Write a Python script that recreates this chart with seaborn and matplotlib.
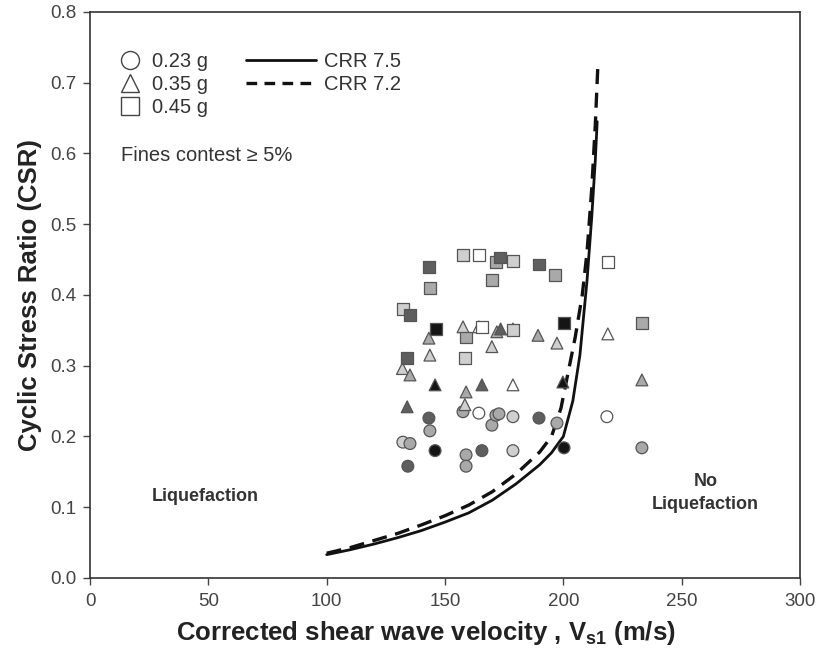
import numpy as np
import pandas as pd
import matplotlib
matplotlib.use("Agg")
import matplotlib.pyplot as plt
from matplotlib.lines import Line2D
import seaborn as sns

# ---- data ----
circle_vs = [132.2, 135.2, 134.3, 143.2, 143.6, 145.8, 157.6, 158.9, 158.9, 164.3, 165.6,
             169.8, 171.5, 172.8, 178.7, 178.7, 189.7, 197.3, 200.3, 218.4, 233.2]
circle_csr = [0.192, 0.190, 0.158, 0.226, 0.208, 0.180, 0.235, 0.174, 0.158, 0.233, 0.180,
              0.216, 0.230, 0.232, 0.228, 0.180, 0.226, 0.219, 0.184, 0.228, 0.184]
circle_fill = ["light", "hatched", "dark", "dark", "hatched", "black", "hatched", "hatched",
               "hatched", "white", "dark", "hatched", "hatched", "hatched", "light", "light",
               "dark", "hatched", "black", "white", "hatched"]

tri_vs = [132.0, 135.2, 134.0, 143.6, 143.2, 145.8, 157.6, 158.9, 158.4, 164.3, 165.6,
          169.8, 171.9, 173.5, 178.7, 178.7, 189.3, 197.3, 199.8, 218.8, 233.2]
tri_csr = [0.296, 0.287, 0.242, 0.315, 0.339, 0.273, 0.355, 0.263, 0.245, 0.355, 0.273,
           0.327, 0.348, 0.352, 0.273, 0.352, 0.343, 0.332, 0.277, 0.345, 0.280]
tri_fill = ["light", "hatched", "dark", "light", "hatched", "black", "light", "hatched",
            "light", "white", "dark", "light", "hatched", "dark", "white", "light",
            "hatched", "light", "black", "white", "hatched"]

sq_vs = [132.2, 135.2, 134.0, 143.2, 143.6, 146.2, 157.6, 158.9, 158.4, 164.3, 165.5,
         169.8, 171.5, 173.2, 178.7, 178.7, 189.7, 196.5, 200.3, 218.8, 233.2]
sq_csr = [0.380, 0.372, 0.311, 0.440, 0.410, 0.352, 0.457, 0.340, 0.311, 0.457, 0.355,
          0.421, 0.447, 0.453, 0.448, 0.350, 0.443, 0.428, 0.360, 0.447, 0.360]
sq_fill = ["light", "dark", "dark", "dark", "hatched", "black", "light", "hatched", "light",
           "white", "white", "hatched", "hatched", "dark", "light", "light", "dark",
           "hatched", "black", "white", "hatched"]

crr75_vs = [100, 110, 120, 130, 140, 150, 160, 170, 180, 190, 195, 200, 204, 207, 210,
            212, 213.5, 214.3]
crr75_csr = [0.033, 0.040, 0.048, 0.057, 0.067, 0.079, 0.092, 0.110, 0.133, 0.160, 0.177,
             0.200, 0.250, 0.315, 0.420, 0.510, 0.590, 0.645]
crr72_vs = [100, 110, 120, 130, 140, 150, 160, 170, 180, 190, 195, 199, 202, 205, 208,
            210, 212, 213.5, 214.6]
crr72_csr = [0.035, 0.043, 0.053, 0.063, 0.075, 0.088, 0.103, 0.122, 0.147, 0.178, 0.200,
             0.240, 0.290, 0.340, 0.400, 0.460, 0.550, 0.640, 0.725]

x_ticks = [0, 50, 100, 150, 200, 250, 300]
y_ticks = [0.0, 0.1, 0.2, 0.3, 0.4, 0.5, 0.6, 0.7, 0.8]

# ---- styling ----
sns.set_theme(style="white")
plt.rcParams["font.family"] = ["Liberation Sans", "DejaVu Sans"]
plt.rcParams["mathtext.fontset"] = "custom"
plt.rcParams["mathtext.rm"] = "Liberation Sans"
plt.rcParams["mathtext.bf"] = "Liberation Sans:bold"
plt.rcParams["mathtext.it"] = "Liberation Sans:italic"

fill_colors = {"white": "#ffffff", "light": "#cfcfcf", "hatched": "#a9a9a9",
               "dark": "#5e5e5e", "black": "#151515"}

df = pd.DataFrame({
    "vs": circle_vs + tri_vs + sq_vs,
    "csr": circle_csr + tri_csr + sq_csr,
    "shape": ["circle"] * len(circle_vs) + ["triangle"] * len(tri_vs) + ["square"] * len(sq_vs),
    "fill": circle_fill + tri_fill + sq_fill,
})

fig = plt.figure(figsize=(8.29, 6.52), dpi=100)
ax = fig.add_axes([0.1086, 0.1135, 0.8564, 0.8681])

sns.lineplot(x=crr75_vs, y=crr75_csr, ax=ax, color="#111111", lw=2.0, sort=False,
             estimator=None)
sns.lineplot(x=crr72_vs, y=crr72_csr, ax=ax, color="#111111", lw=2.4, sort=False,
             estimator=None, linestyle=(0, (4.5, 2.6)))

sns.scatterplot(data=df, x="vs", y="csr", style="shape", hue="fill",
                markers={"circle": "o", "triangle": "^", "square": "s"},
                palette=fill_colors, s=72, edgecolor="#555555", linewidth=0.9,
                legend=False, ax=ax, zorder=3)

ax.set_xlim(0, 300)
ax.set_ylim(0, 0.8)
ax.set_xticks(x_ticks)
ax.set_yticks(y_ticks)
ax.set_yticklabels([f"{v:.1f}" for v in y_ticks])
ax.tick_params(axis="both", direction="out", length=5, width=1, color="#444444",
               labelsize=13.5, labelcolor="#444444", bottom=True, left=True)
ax.tick_params(axis="x", pad=6)
ax.tick_params(axis="y", pad=5)
for sp in ax.spines.values():
    sp.set_color("#333333")
    sp.set_linewidth(1.2)

ax.set_xlabel(r"Corrected shear wave velocity , $\mathbf{V_{s1}}$ (m/s)",
              fontsize=18.5, fontweight="bold", color="#222222", labelpad=6, x=0.473)
ax.set_ylabel("Cyclic Stress Ratio (CSR)", fontsize=18.5, fontweight="bold",
              color="#222222", labelpad=6)

# legends
mk_handles = [Line2D([], [], marker=m, linestyle="none", markersize=13,
                     markerfacecolor="white", markeredgecolor="#444444",
                     markeredgewidth=1.0) for m in ["o", "^", "s"]]
leg1 = ax.legend(mk_handles, ["0.23 g", "0.35 g", "0.45 g"], loc="upper left",
                 bbox_to_anchor=(0.041, 0.929), frameon=False, fontsize=14.5,
                 labelspacing=0.2, handletextpad=0.55, handlelength=1.1,
                 borderpad=0, borderaxespad=0)
for t in leg1.get_texts():
    t.set_color("#333333")
ax.add_artist(leg1)

ln_handles = [Line2D([], [], color="#111111", lw=2.0),
              Line2D([], [], color="#111111", lw=2.4, linestyle=(0, (3.2, 2.2)))]
leg2 = ax.legend(ln_handles, ["CRR 7.5", "CRR 7.2"], loc="upper left",
                 bbox_to_anchor=(0.219, 0.929), frameon=False, fontsize=14.5,
                 labelspacing=0.2, handletextpad=0.4, handlelength=3.5,
                 borderpad=0, borderaxespad=0)
for t in leg2.get_texts():
    t.set_color("#333333")

ax.text(13.2, 0.597, "Fines contest \u2265 5%", fontsize=14.5, color="#333333",
        ha="left", va="center", family=["Liberation Sans", "DejaVu Sans"])
ax.text(48.5, 0.115, "Liquefaction", fontsize=13, fontweight="bold", color="#333333",
        ha="center", va="center")
ax.text(260, 0.12, "No\nLiquefaction", fontsize=13, fontweight="bold", color="#333333",
        ha="center", va="center", linespacing=1.4)

fig.savefig("out.png", dpi=100)
